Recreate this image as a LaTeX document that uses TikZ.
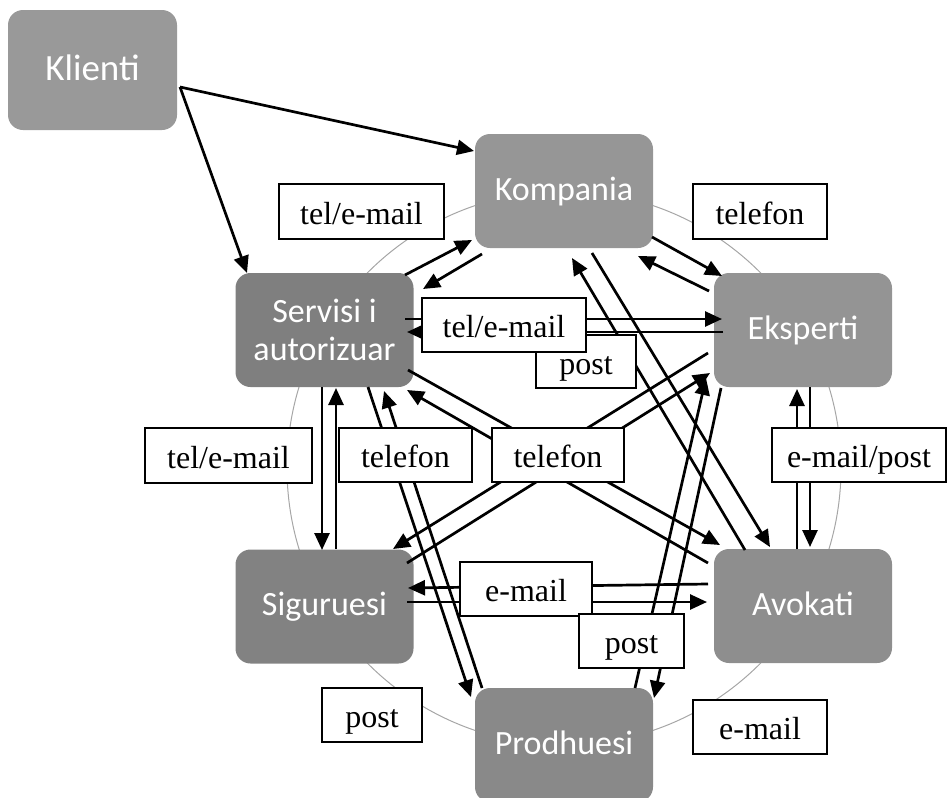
\documentclass[tikz,border=0pt]{standalone}
\usepackage{fontspec}
\setmainfont{Liberation Serif}
\newfontfamily\entfont{Carlito}
\usetikzlibrary{arrows.meta,calc}
\begin{document}
\begin{tikzpicture}[x=1pt,y=-1pt,
 entbase/.style={rectangle, rounded corners=15pt, minimum width=178pt, minimum height=114pt, inner sep=0pt, text=white, font=\entfont\fontsize{34}{38}\selectfont, align=center},
 ent/.style={entbase, text height=18pt, text depth=0pt},
 lab/.style={draw=black, line width=1.8pt, fill=white, inner sep=0pt, font=\fontsize{32}{38}\selectfont, text height=25pt, text depth=0pt},
 ar/.style={line width=2.7pt, -{Triangle[length=17pt,width=15pt]}},
]
\useasboundingbox (0,0) rectangle (948,798);
% background ring
\draw[color={rgb,255:red,166;green,166;blue,166}, line width=1pt] (564,468) circle[radius=277];
% entities
\node[ent, fill={rgb,255:red,153;green,153;blue,153}, minimum width=169pt, minimum height=120pt, font=\entfont\fontsize{37}{40}\selectfont, text height=20pt] (klienti) at (92.5,70) {Klienti};
\node[ent, fill={rgb,255:red,150;green,150;blue,150}] (kompania) at (564,191) {Kompania};
\node[entbase, fill={rgb,255:red,127;green,127;blue,127}] (servisi) at (324.5,330) {Servisi i\\autorizuar};
\node[ent, fill={rgb,255:red,148;green,148;blue,148}] (eksperti) at (803,330) {Eksperti};
\node[ent, fill={rgb,255:red,130;green,130;blue,130}] (siguruesi) at (324.5,606.5) {Siguruesi};
\node[ent, fill={rgb,255:red,142;green,142;blue,142}] (avokati) at (803,606) {Avokati};
\node[ent, fill={rgb,255:red,137;green,137;blue,137}] (prodhuesi) at (564,745) {Prodhuesi};
% connectors
\draw[ar] ([shift={(87.5,17)}]klienti.center) -- ([shift={(-90,-40)}]kompania.center);
\draw[ar] ([shift={(87.5,17)}]klienti.center) -- ([shift={(-77.5,-57)}]servisi.center);
\draw[ar] ([shift={(80.5,-55)}]servisi.center) -- ([shift={(-92,49)}]kompania.center);
\draw[ar] ([shift={(-82,63)}]kompania.center) -- ([shift={(98.5,-41)}]servisi.center);
\draw[ar] ([shift={(88,46)}]kompania.center) -- ([shift={(-81,-54)}]eksperti.center);
\draw[ar] ([shift={(-94,-39)}]eksperti.center) -- ([shift={(74,65)}]kompania.center);
\draw[ar] ([shift={(80.5,-11)}]servisi.center) -- ([shift={(-81,-11)}]eksperti.center);
\draw[ar] ([shift={(-80,2)}]eksperti.center) -- ([shift={(82.5,2)}]servisi.center);
\draw[ar] ([shift={(-2.5,57)}]servisi.center) -- ([shift={(-2.5,-56.5)}]siguruesi.center);
\draw[ar] ([shift={(11.5,-57.5)}]siguruesi.center) -- ([shift={(11.5,58)}]servisi.center);
\draw[ar] ([shift={(43.5,57)}]servisi.center) -- ([shift={(-93,-48)}]prodhuesi.center);
\draw[ar] ([shift={(-82,-57)}]prodhuesi.center) -- ([shift={(59.5,61)}]servisi.center);
\draw[ar] ([shift={(83.5,40)}]servisi.center) -- ([shift={(-83,-61)}]avokati.center);
\draw[ar] ([shift={(-95,-43)}]avokati.center) -- ([shift={(82.5,60)}]servisi.center);
\draw[ar] ([shift={(-95,23)}]eksperti.center) -- ([shift={(68.5,-57.5)}]siguruesi.center);
\draw[ar] ([shift={(82.5,-43.5)}]siguruesi.center) -- ([shift={(-93,43)}]eksperti.center);
\draw[ar] ([shift={(28,62)}]kompania.center) -- ([shift={(-33,-59)}]avokati.center);
\draw[ar] ([shift={(-58,-56)}]avokati.center) -- ([shift={(8,67)}]kompania.center);
\draw[ar] ([shift={(-95,-22)}]avokati.center) -- ([shift={(83.5,-18.5)}]siguruesi.center);
\draw[ar] ([shift={(82.5,-4.5)}]siguruesi.center) -- ([shift={(-96,-4)}]avokati.center);
\draw[ar] ([shift={(71,-57)}]prodhuesi.center) -- ([shift={(-97,48)}]eksperti.center);
\draw[ar] ([shift={(-82,58)}]eksperti.center) -- ([shift={(90,-47)}]prodhuesi.center);
\draw[ar] ([shift={(-6,-57)}]avokati.center) -- ([shift={(-6,59)}]eksperti.center);
\draw[ar] ([shift={(7,57)}]eksperti.center) -- ([shift={(7,-59)}]avokati.center);
% labels
\node[lab, minimum width=165pt, minimum height=55pt] (l1) at (361.5,211.5) {tel/e-mail};
\node[lab, minimum width=134pt, minimum height=55pt] (l2) at (760,211.5) {telefon};
\node[lab, minimum width=100pt, minimum height=53pt] (l4) at (586,361.5) {post};
\node[lab, minimum width=164pt, minimum height=54pt] (l3) at (504,325) {tel/e-mail};
\node[lab, minimum width=167pt, minimum height=55pt] (l5) at (228.5,455.5) {tel/e-mail};
\node[lab, minimum width=133pt, minimum height=54pt] (l6) at (405.5,455) {telefon};
\node[lab, minimum width=132pt, minimum height=54pt] (l7) at (558,455) {telefon};
\node[lab, minimum width=174pt, minimum height=54pt] (l8) at (859,455) {e-mail/post};
\node[lab, minimum width=132pt, minimum height=54pt] (l9) at (526,589) {e-mail};
\node[lab, minimum width=105pt, minimum height=54pt] (l10) at (631.5,641) {post};
\node[lab, minimum width=100pt, minimum height=54pt] (l11) at (372,715) {post};
\node[lab, minimum width=134pt, minimum height=54pt] (l12) at (760,727) {e-mail};
\end{tikzpicture}
\end{document}
